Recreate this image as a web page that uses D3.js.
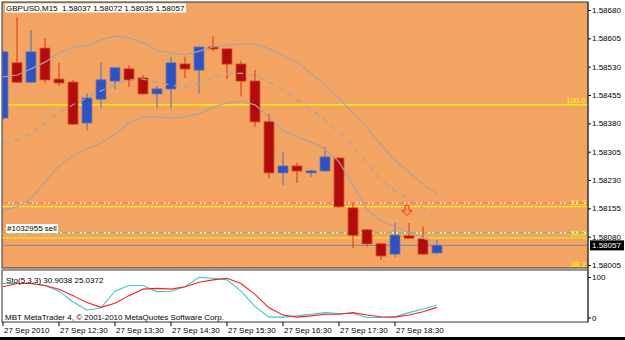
<!DOCTYPE html>
<html>
<head>
<meta charset="utf-8">
<script src="https://cdn.jsdelivr.net/npm/d3@7"></script>
<style>
  body { margin: 0; background: #fff; }
  svg text { font-family: "Liberation Sans", Arial, sans-serif; font-size: 8px; white-space: pre; }
</style>
</head>
<body>
<svg width="625" height="340"></svg>
<script>
// GBPUSD M15, 27 Sep 2010
const times = ["11:30","11:45","12:00","12:15","12:30","12:45","13:00","13:15","13:30","13:45","14:00","14:15",
  "14:30","14:45","15:00","15:15","15:30","15:45","16:00","16:15","16:30","16:45","17:00","17:15",
  "17:30","17:45","18:00","18:15","18:30","18:45","19:00","19:15"];
const open  = [1.58394,1.58540,1.58489,1.58579,1.58497,1.58489,1.58381,1.58444,1.58492,1.58524,1.58500,1.58458,
  1.58471,1.58537,1.58521,1.58582,1.58577,1.58537,1.58492,1.58384,1.58249,1.58267,1.58249,1.58254,
  1.58288,1.58156,1.58098,1.58061,1.58034,1.58082,1.58074,1.58037];
const high  = [1.58574,1.58662,1.58627,1.58606,1.58540,1.58495,1.58460,1.58542,1.58527,1.58534,1.58508,1.58479,
  1.58556,1.58556,1.58582,1.58611,1.58577,1.58545,1.58521,1.58405,1.58304,1.58275,1.58257,1.58317,
  1.58291,1.58169,1.58100,1.58063,1.58116,1.58116,1.58106,1.58072];
const low   = [1.58389,1.58487,1.58489,1.58487,1.58479,1.58376,1.58362,1.58421,1.58471,1.58476,1.58455,1.58421,
  1.58421,1.58500,1.58458,1.58571,1.58497,1.58452,1.58370,1.58233,1.58217,1.58222,1.58238,1.58254,
  1.58156,1.58050,1.58053,1.58018,1.58026,1.58076,1.58032,1.58035];
const close = [1.58569,1.58489,1.58569,1.58495,1.58487,1.58378,1.58447,1.58495,1.58527,1.58495,1.58458,1.58471,
  1.58540,1.58524,1.58582,1.58577,1.58537,1.58492,1.58384,1.58249,1.58267,1.58254,1.58254,1.58291,
  1.58159,1.58084,1.58061,1.58029,1.58084,1.58076,1.58034,1.58057];

// bands (upper / middle / lower)
const bandUpper  = [1.58503,1.58508,1.58524,1.58542,1.58566,1.58582,1.58585,1.58601,1.58611,1.58606,1.58593,1.58574,
  1.58566,1.58561,1.58571,1.58582,1.58587,1.58590,1.58590,1.58577,1.58561,1.58542,1.58513,1.58481,
  1.58447,1.58407,1.58368,1.58323,1.58283,1.58251,1.58219,1.58193];
const bandMiddle = [1.58328,1.58336,1.58354,1.58381,1.58407,1.58429,1.58447,1.58466,1.58481,1.58495,1.58497,1.58489,
  1.58481,1.58476,1.58487,1.58500,1.58511,1.58513,1.58505,1.58489,1.58471,1.58442,1.58418,1.58389,
  1.58357,1.58320,1.58275,1.58230,1.58201,1.58180,1.58156,1.58127];
const bandLower  = [1.58151,1.58159,1.58180,1.58225,1.58267,1.58294,1.58312,1.58328,1.58352,1.58381,1.58397,1.58397,
  1.58394,1.58397,1.58405,1.58423,1.58434,1.58439,1.58429,1.58397,1.58362,1.58344,1.58331,1.58312,
  1.58278,1.58217,1.58151,1.58122,1.58106,1.58092,1.58076,1.58063];

// Stochastic(5,3,3)
const stoMain   = [84,84,84,79,65,39,18,24,65,79,79,64,65,76,99,97,93,65,27,1,1,4,8,12,10,10,0,0,2,12,21,30.9038];
const stoSignal = [76,84,84,79,70,54,37,25,35,54,70,72,70,76,87,93,97,84,57,24,6,1,4,8,8,12,6,2,1,6,14,25.0372];

const priceTicks = [1.58680,1.58605,1.58530,1.58455,1.58380,1.58305,1.58230,1.58155,1.58080,1.58005];
const timeTicks  = ["11:30","12:30","13:30","14:30","15:30","16:30","17:30","18:30"];
const timeLabels = ["27 Sep 2010","27 Sep 12:30","27 Sep 13:30","27 Sep 14:30","27 Sep 15:30","27 Sep 16:30","27 Sep 17:30","27 Sep 18:30"];

const fiboLevels = [100.0, 61.8, 50.0, 38.2];
const fiboHigh = 1.58429, fiboLow = 1.57724;
const orderPrice = 1.58090, stopPrice = 1.58169, bidPrice = 1.58057;
const arrowTime = "18:45", arrowPrice = 1.58162;

const svg = d3.select("svg");
const L = 2, R = 588, T = 2, B = 268, subT = 270, subB = 322;

const x = d3.scaleBand().domain(times).range([-4, -4 + 14 * times.length]);
const cx = t => x(t) + x.bandwidth() / 2;
const y = d3.scaleLinear().domain([1.58005, 1.58680]).range([265, 10]);
const ys = d3.scaleLinear().domain([0, 100]).range([317.5, 277]);

// panels
svg.append("rect").attr("x", L).attr("y", T).attr("width", R - L).attr("height", B - T)
  .attr("fill", "#f3a462").attr("stroke", "#333");
svg.append("rect").attr("x", L).attr("y", subT).attr("width", R - L).attr("height", subB - subT)
  .attr("fill", "#fff").attr("stroke", "#333");
svg.append("rect").attr("x", 0).attr("y", 337).attr("width", 625).attr("height", 3).attr("fill", "#000");

svg.append("clipPath").attr("id", "clip").append("rect")
  .attr("x", L + 0.5).attr("y", T + 0.5).attr("width", R - L - 1).attr("height", B - T - 1);
svg.append("clipPath").attr("id", "clipSub").append("rect")
  .attr("x", L + 0.5).attr("y", subT + 0.5).attr("width", R - L - 1).attr("height", subB - subT - 1);

const main = svg.append("g").attr("clip-path", "url(#clip)");

// fibo levels
const fiboY = lv => y(fiboLow + (fiboHigh - fiboLow) * lv / 100);
main.selectAll(".fibo").data(fiboLevels).join("line")
  .attr("x1", L).attr("x2", R)
  .attr("y1", d => fiboY(d)).attr("y2", d => fiboY(d))
  .attr("stroke", "#ffff00").attr("stroke-width", 1.2)
  .attr("stroke-dasharray", d => d === 100 ? null : "3,1");
main.selectAll(".fiboLabel").data(fiboLevels).join("text")
  .attr("x", R - 2).attr("y", d => fiboY(d) - 2)
  .attr("text-anchor", "end").attr("fill", "#ffff00")
  .text(d => d.toFixed(1));

// order lines (white underlay + dash-dot)
[[stopPrice, "#ff3a10"], [orderPrice, "#40b020"]].forEach(([p, c]) => {
  main.append("line").attr("x1", L).attr("x2", R).attr("y1", y(p)).attr("y2", y(p))
    .attr("stroke", "#fff").attr("stroke-width", 1);
  main.append("line").attr("x1", L).attr("x2", R).attr("y1", y(p)).attr("y2", y(p))
    .attr("stroke", c).attr("stroke-width", 1).attr("stroke-dasharray", "6,2,2,2");
});
main.append("line").attr("x1", L).attr("x2", R).attr("y1", y(bidPrice)).attr("y2", y(bidPrice))
  .attr("stroke", "#7d8aa0").attr("stroke-width", 1);

// candles
const idx = d3.range(times.length);
const bull = i => close[i] >= open[i];
main.selectAll(".wick").data(idx).join("line")
  .attr("x1", i => cx(times[i])).attr("x2", i => cx(times[i]))
  .attr("y1", i => y(high[i])).attr("y2", i => y(low[i]))
  .attr("stroke", i => bull(i) ? "#6b78a8" : "#e2461e").attr("stroke-width", 1.2);
const bw = x.bandwidth() * 0.7;
main.selectAll(".body").data(idx).join("rect")
  .attr("x", i => cx(times[i]) - bw / 2).attr("width", bw)
  .attr("y", i => y(Math.max(open[i], close[i])))
  .attr("height", i => Math.max(1.5, Math.abs(y(open[i]) - y(close[i]))))
  .attr("fill", i => bull(i) ? "#2f52c2" : "#b30c0c")
  .attr("stroke", i => bull(i) ? "#5a6cb0" : "#d23a1e").attr("stroke-width", 0.8);

// bands
const bandLine = arr => d3.line().x((d, i) => cx(times[i])).y(d => y(d))(arr);
[bandUpper, bandLower].forEach(arr => {
  main.append("path").attr("d", bandLine(arr)).attr("fill", "none")
    .attr("stroke", "#a8a4a6").attr("stroke-width", 1.2);
});
main.append("path").attr("d", bandLine(bandMiddle)).attr("fill", "none")
  .attr("stroke", "#a8a4a6").attr("stroke-width", 1.2).attr("stroke-dasharray", "6,5");

// sell arrow
const ax = cx(arrowTime) - 2, ay = y(arrowPrice);
main.append("path")
  .attr("d", `M${ax - 2},${ay} h4 v5 h3 l-5,5 l-5,-5 h3 z`)
  .attr("fill", "none").attr("stroke", "#ff2a10").attr("stroke-width", 1);

// labels with white boxes
const box = (tx, ty, txt) => {
  const g = svg.append("g");
  const r = g.append("rect").attr("fill", "#fff");
  const t = g.append("text").attr("x", tx).attr("y", ty).attr("fill", "#000").text(txt);
  const bb = t.node().getBBox();
  r.attr("x", bb.x - 1).attr("y", bb.y).attr("width", bb.width + 2).attr("height", bb.height);
};
box(6, 10.5, "GBPUSD,M15  1.58037 1.58072 1.58035 1.58057");
box(7, 231, "#1032955 sell");

// stochastic
const sub = svg.append("g").attr("clip-path", "url(#clipSub)");
const stoLine = d3.line().x((d, i) => cx(times[i])).y(d => ys(d));
sub.append("path").attr("d", stoLine(stoMain)).attr("fill", "none")
  .attr("stroke", "#3cc8c8").attr("stroke-width", 1.1);
sub.append("path").attr("d", stoLine(stoSignal)).attr("fill", "none")
  .attr("stroke", "#ff1c1c").attr("stroke-width", 1.1);
svg.append("text").attr("x", 6).attr("y", 283).text("Sto(5,3,3) 30.9038 25.0372");
svg.append("text").attr("x", 5).attr("y", 320).text("MBT MetaTrader 4, \u00a9 2001-2010 MetaQuotes Software Corp.");

// price axis
const yAxis = svg.append("g").attr("transform", `translate(${R},0)`)
  .call(d3.axisRight(y).tickValues(priceTicks).tickFormat(d3.format(".5f")).tickSize(3).tickPadding(1));
yAxis.select(".domain").remove();
const sAxis = svg.append("g").attr("transform", `translate(${R},0)`)
  .call(d3.axisRight(ys).tickValues([0, 100]).tickSize(3).tickPadding(1));
sAxis.select(".domain").remove();
svg.selectAll(".tick text").attr("font-size", null).attr("font-family", null).attr("fill", "#000");
yAxis.attr("font-size", null).attr("font-family", null);
sAxis.attr("font-size", null).attr("font-family", null);
svg.append("line").attr("x1", R).attr("x2", R).attr("y1", T).attr("y2", subB).attr("stroke", "#333");

// current price box
svg.append("rect").attr("x", R + 2).attr("y", y(bidPrice) - 5).attr("width", 34).attr("height", 10).attr("fill", "#000");
svg.append("text").attr("x", R + 4).attr("y", y(bidPrice) + 3).attr("fill", "#fff").text(d3.format(".5f")(bidPrice));

// time axis
const xAxis = svg.append("g").attr("transform", `translate(0,${subB})`)
  .call(d3.axisBottom(x).tickValues(timeTicks).tickSize(4).tickFormat((d, i) => timeLabels[i]));
xAxis.attr("font-size", null).attr("font-family", null);
xAxis.select(".domain").remove();
xAxis.selectAll(".tick text").attr("text-anchor", "start").attr("x", 1).attr("dy", null).attr("y", 11)
  .attr("fill", "#000");
</script>
</body>
</html>
